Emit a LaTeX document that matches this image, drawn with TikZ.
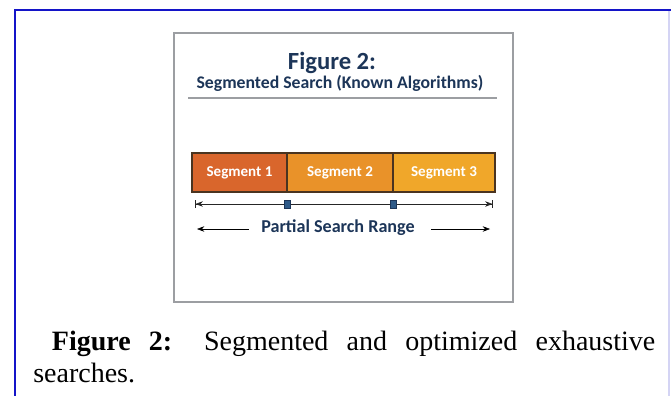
\documentclass[tikz,border=0pt]{standalone}
\usepackage{fontspec}
\setmainfont{Liberation Serif}
\newfontfamily\figfont{Carlito}
\usepackage{tikz}
\usetikzlibrary{positioning}
\usetikzlibrary{arrows.meta}
\definecolor{frameblue}{HTML}{1414C8}
\definecolor{framelight}{HTML}{D4D4F4}
\definecolor{boxgray}{HTML}{9C9EA2}
\definecolor{navy}{HTML}{1C3558}
\definecolor{segone}{HTML}{D9662C}
\definecolor{segtwo}{HTML}{E99229}
\definecolor{segthree}{HTML}{F0A72A}
\definecolor{segedge}{HTML}{4A3420}
\definecolor{tickblue}{HTML}{2E5A88}
\tikzstyle{segbox} = [draw=segedge,line width=0.8pt,outer sep=0pt,inner sep=0pt,minimum height=29.25pt,text=white,font=\figfont\bfseries\fontsize{11.3}{13}\selectfont]
\tikzstyle{rangeline} = [thin,draw=black!85,{Bar[width=6pt]Stealth[length=5.5pt]}-{Stealth[length=5.5pt]Bar[width=6pt]}]
\tikzstyle{arrow} = [thin,-{Stealth[length=5.5pt]}]
\tikzstyle{tickbox} = [fill=tickblue,draw=navy,line width=0.3pt,inner sep=0pt,minimum width=4.5pt,minimum height=6pt]

\begin{document}
\begin{tikzpicture}[x=0.75pt,y=-0.75pt]
\useasboundingbox (0,0) rectangle (671,396);
						%Frame
						\draw[framelight,line width=1.5pt] (669,10) -- (669,396);
						\draw[frameblue,line width=2.2pt] (15,396) -- (15,10) -- (671,10);
						\draw[boxgray,line width=1.4pt] (174,33) rectangle (513,302);
						
						%Title
						\node[font=\figfont\bfseries\fontsize{18.5}{20}\selectfont,text=navy] (title) at (332,63) {Figure 2:};
						\node[font=\figfont\bfseries\fontsize{13.3}{15}\selectfont,text=navy] (subtitle) at (340,83) {Segmented Search (Known Algorithms)};
						\draw[boxgray,line width=0.8pt] (188,98) -- (497,98);
						
						%Segments
						\node[segbox,fill=segone,minimum width=71.25pt] (s1) at (239.5,172.5) {Segment 1};
						\node[segbox,fill=segtwo,minimum width=79.5pt,right=0pt of s1] (s2) {Segment 2};
						\node[segbox,fill=segthree,minimum width=76.5pt,right=0pt of s2] (s3) {Segment 3};
						
						%Range
						\coordinate (rl) at (195,204);
						\coordinate (rr) at (493,204);
						\draw[rangeline] (rl) -- (rr);
						\node[tickbox] (t1) at (s1.east |- rl) {};
						\node[tickbox] (t2) at (s2.east |- rl) {};
						
						\node[font=\figfont\bfseries\fontsize{13.6}{15}\selectfont,text=navy] (psr) at (338,228) {Partial Search Range};
						\coordinate (al) at (197,229);
						\coordinate (ar) at (490,229);
						\draw[arrow] (psr.west) ++(-8,1) -- (al);
						\draw[arrow] (psr.east) ++(12,1) -- (ar);
						
						%Caption
						\node[anchor=base west,inner sep=0pt,text width=466.5pt,align=justify,font=\fontsize{21}{24}\selectfont] (caption) at (33,350) {\hspace*{14pt}\textbf{Figure 2:} Segmented and optimized exhaustive searches.};
					\end{tikzpicture}
\end{document}
